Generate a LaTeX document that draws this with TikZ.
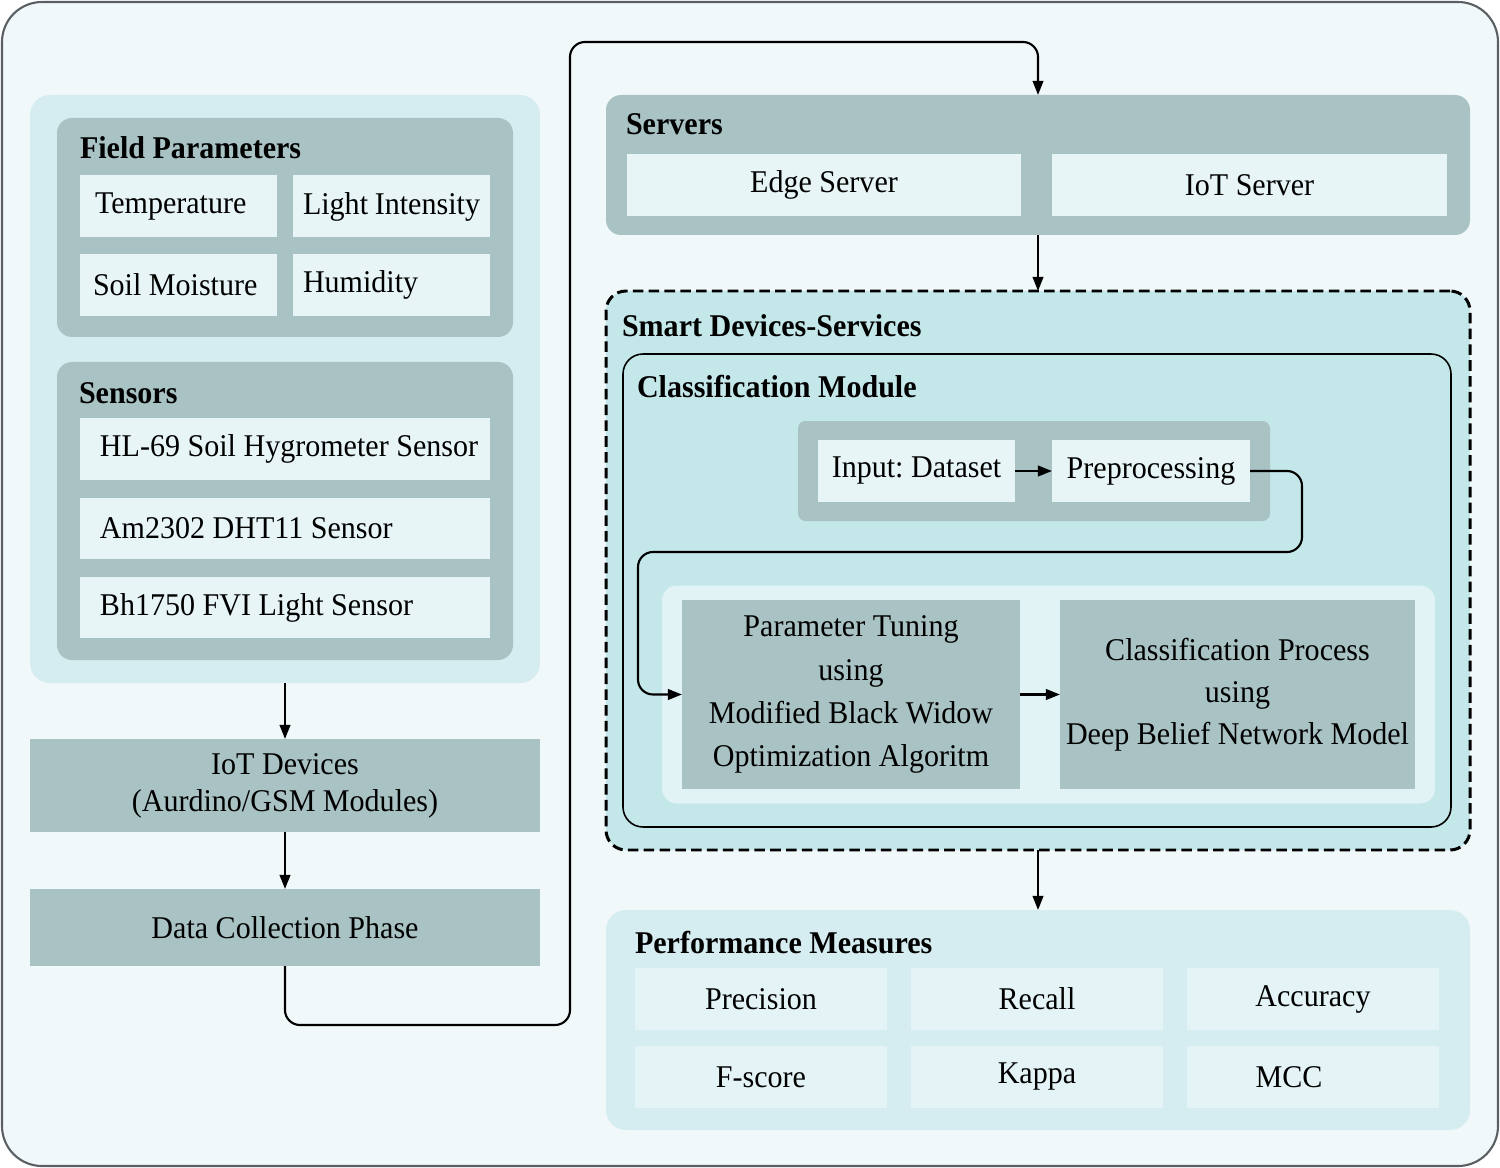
\documentclass[tikz,border=0pt]{standalone}
\usepackage{fontspec}
\setmainfont{Liberation Serif}[FakeStretch=0.95]
\usetikzlibrary{arrows.meta}
\tikzset{>=stealth}
\definecolor{framebg}{HTML}{F1F8FA}
\definecolor{framedraw}{HTML}{5A5F63}
\definecolor{panelblue}{HTML}{D5ECF0}
\definecolor{graybox}{HTML}{A9C2C4}
\definecolor{cellbg}{HTML}{E7F5F6}
\definecolor{smartbg}{HTML}{C4E7EA}
\definecolor{lightbg}{HTML}{E2F3F5}
\definecolor{metricbg}{HTML}{E4F3F5}
\tikzset{
  wh/.style 2 args={minimum width=#1*0.2mm, minimum height=#2*0.2mm},
  panel/.style={fill=panelblue, rounded corners=4mm},
  grouped/.style={fill=graybox, rounded corners=3mm},
  cell/.style={fill=cellbg},
  fcell/.style={cell, minimum height=12.4mm, text width=35.4mm, inner xsep=2mm, align=flush left},
  scell/.style={cell, minimum height=12.2mm, text width=78mm, inner xsep=2mm, align=flush left},
  gbox/.style={fill=graybox, align=center},
  mcell/.style={fill=metricbg, wh={252}{62}},
  title/.style={anchor=west, font=\fontsize{18}{21}\selectfont\bfseries},
  conn/.style={line width=1.2pt, -{Triangle[length=8pt,width=6pt]}}
}

\begin{document}
\begin{tikzpicture}[x=0.2mm, y=-0.2mm,
    every node/.style={font=\fontsize{18}{21}\selectfont, inner sep=0, outer sep=0}]
    \useasboundingbox (0,0) rectangle (1500,1168);
    \draw [fill=framebg, draw=framedraw, line width=1.2pt, rounded corners=8mm] (2,2) rectangle (1498,1166);

    \node [panel, wh={510}{588}] (leftpanel) at (285,389) {};
    \node [grouped, wh={456}{219}] (fieldbox) at (285,227.5) {};
    \node [title] (fieldtitle) at (80,148) {Field Parameters};
    \node [fcell] (temp) at (178.5,206.5) {\hspace{1mm}Temperature};
    \node [fcell] (light) at (391.5,206.5) {Light Intensity};
    \node [fcell] (soil) at (178.5,285) {\hspace{0.6mm}Soil Moisture};
    \node [fcell] (humid) at (391.5,285) {Humidity};

    \node [grouped, wh={456}{298}] (sensbox) at (285,511) {};
    \node [title] (senstitle) at (79,393) {Sensors};
    \node [scell] (hlsensor) at (285,449) {\hspace{2mm}HL-69 Soil Hygrometer Sensor};
    \node [scell] (amsensor) at (285,528.5) {\hspace{2mm}Am2302 DHT11 Sensor};
    \node [scell] (bhsensor) at (285,607.5) {\hspace{2mm}Bh1750 FVI Light Sensor};

    \node [gbox, wh={510}{93}] (iotdev) at (285,785.5) {IoT Devices\\(Aurdino/GSM Modules)};
    \node [gbox, wh={510}{77}] (dcp) at (285,927.5) {Data Collection Phase};

    \node [grouped, wh={864}{140}] (servers) at (1038,165) {};
    \node [title] (servtitle) at (626,124) {Servers};
    \node [cell, wh={394}{62}] (edge) at (824,185) {Edge Server};
    \node [cell, wh={395}{62}] (iotsrv) at (1249.5,185) {IoT Server};

    \node [fill=smartbg, draw, line width=1.7pt, dash pattern=on 6pt off 3pt, rounded corners=4mm, wh={864}{559}] (smart) at (1038,570.5) {};
    \node [title] (smarttitle) at (622,326) {Smart Devices-Services};
    \node [draw, line width=0.9pt, rounded corners=4mm, wh={828}{473}] (clsmod) at (1037,590.5) {};
    \node [title] (clstitle) at (637,387) {Classification Module};
    \node [grouped, rounded corners=1.5mm, wh={472}{100}] (inbox) at (1034,471) {};
    \node [cell, wh={197}{62}] (input) at (916.5,471) {Input:\ Dataset};
    \node [cell, wh={198}{62}] (prep) at (1151,471) {Preprocessing};
    \node [fill=lightbg, rounded corners=3mm, wh={773}{218}] (lightbox) at (1048.5,694.5) {};
    \node [gbox, wh={338}{189}, font=\fontsize{18}{24.5}\selectfont] (tune) at (851,694.5)
        {Parameter Tuning\\using\\Modified Black Widow\\Optimization Algoritm};
    \node [gbox, wh={355}{189}, font=\fontsize{18}{24}\selectfont] (dbn) at (1237.5,694.5)
        {Classification Process\\using\\Deep Belief Network Model};

    \node [panel, wh={864}{220}] (perf) at (1038,1020) {};
    \node [title] (perftitle) at (635,943) {Performance Measures};
    \foreach \name/\txt/\x/\y in {prec/Precision/761/999, rec/Recall/1037/999, acc/Accuracy/1313/999,
                                 fscore/F-score/761/1077, kappa/Kappa/1037/1077}
        \node [mcell] (\name) at (\x,\y) {\txt};
    \node [mcell] (mcc) at (1313,1077) {MCC\rule{9.6mm}{0pt}};

    \draw [conn] (leftpanel.south) -- (iotdev.north);
    \draw [conn] (iotdev.south) -- (dcp.north);
    \draw [conn, rounded corners=3mm] (dcp.south) -- (285,1025) -- (570,1025) -- (570,42) -- (1038,42) -- (servers.north);
    \draw [conn] (servers.south) -- (smart.north);
    \draw [conn] (input.east) -- (prep.west);
    \draw [conn, rounded corners=3mm] (prep.east) -- (1302,471) -- (1302,552) -- (638,552) -- (638,694.5) -- (tune.west);
    \draw [conn] (tune.east) -- (dbn.west);
    \draw [conn] (smart.south) -- (perf.north);
\end{tikzpicture}
\end{document}
